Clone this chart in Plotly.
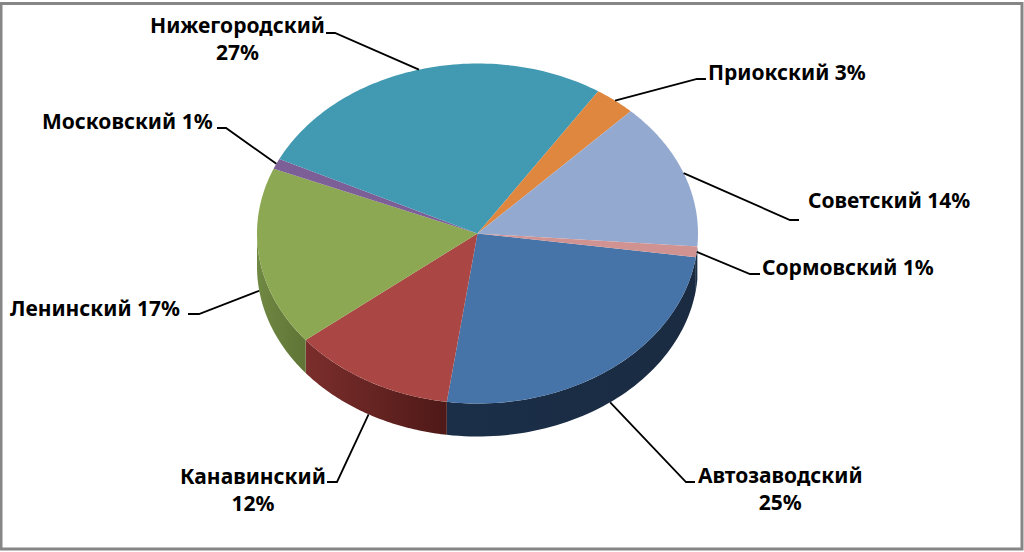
"""Объёмная круговая диаграмма по районам Нижнего Новгорода (1024x552)"""

import numpy as np
import plotly.graph_objects as go

# данные
districts = ['Автозаводский', 'Канавинский', 'Ленинский', 'Московский',
             'Нижегородский', 'Приокский', 'Советский', 'Сормовский']
shares = [25, 12, 17, 1, 27, 3, 14, 1]

# оформление секторов
top_colors = ['#4674A9', '#AA4744', '#8CA852', '#7D5F97', '#4299B2', '#DF873E', '#94A9D0', '#D09392']
side_left = ['#1B2F49', '#7B2E2C', '#6F8842', '#5E4672', '#2F7186', '#A9652D', '#6F80A0', '#1B2F49']
side_right = ['#1A2B41', '#4E1917', '#5F7436', '#5E4672', '#2F7186', '#A9652D', '#6F80A0', '#1B2F49']

# подписи
wrapped = [True, True, False, False, True, False, False, False]
label_x = [780, 253, 95, 127, 237, 787, 889, 848]
label_y = [488, 489, 308, 121, 38, 72, 200, 267]
elbow_x = [686, 337, 199, 226, 335, 697, 790, 750]
stub_x = [695, 327, 188, 217, 326, 706, 799, 760]
elbow_y = [482, 482, 314, 128, 33, 79, 220, 274]
on_wall = [True, True, True, False, False, False, False, False]

# геометрия эллипса
cx, cy = 477.5, 233.5
rx, ry = 220.5, 170
depth = 33
start_deg = 8.0


def rim(deg, shift=0.0):
    a = np.radians(deg)
    return cx + rx * np.cos(a), cy + ry * np.sin(a) + shift


fig = go.Figure()

edges = start_deg + np.concatenate([[0], np.cumsum(shares)]) * 3.6

# боковая стенка: видна только нижняя половина эллипса
for i in range(len(shares)):
    a0, a1 = edges[i], edges[i + 1]
    lo, hi = max(a0, 0), min(a1, 180)
    if a0 >= 360 - 4:
        lo, hi = a0 - 360, a1 - 360
    if lo >= hi:
        continue
    t = np.linspace(lo, hi, 60)
    xu, yu = rim(t)
    xd, yd = rim(t[::-1], depth)
    fig.add_trace(go.Scatter(
        x=np.r_[xu, xd, xu[0]], y=np.r_[yu, yd, yu[0]], mode='none', fill='toself',
        fillgradient=dict(type='horizontal', colorscale=[[0, side_left[i]], [1, side_right[i]]]),
        showlegend=False, hoverinfo='skip',
    ))

# верхняя грань
for i in range(len(shares)):
    t = np.linspace(edges[i], edges[i + 1], 80)
    xs, ys = rim(t)
    fig.add_trace(go.Scatter(
        x=np.r_[cx, xs, cx], y=np.r_[cy, ys, cy], mode='none', fill='toself',
        fillcolor=top_colors[i], name=districts[i],
        hovertemplate=f'{districts[i]}: {shares[i]}%<extra></extra>',
    ))

# выноски и подписи
for i in range(len(shares)):
    mid = (edges[i] + edges[i + 1]) / 2
    ax, ay = rim(mid, depth if on_wall[i] else 0)
    fig.add_trace(go.Scatter(
        x=[stub_x[i], elbow_x[i], ax], y=[elbow_y[i], elbow_y[i], ay], mode='lines',
        line=dict(color='#000000', width=1.8), showlegend=False, hoverinfo='skip',
    ))
    sep = '<br>' if wrapped[i] else ' '
    fig.add_annotation(
        x=label_x[i], y=label_y[i], text=f'{districts[i]}{sep}{shares[i]}%', showarrow=False,
        xanchor='center', yanchor='middle',
        font=dict(family='Noto Sans', size=21, color='#000000', weight=700),
    )

# рамка
fig.add_shape(type='rect', x0=1, y0=3.5, x1=1022, y1=549,
              line=dict(color='#868686', width=3), fillcolor='rgba(0,0,0,0)')

fig.update_xaxes(range=[0, 1024], visible=False)
fig.update_yaxes(range=[552, 0], visible=False)
fig.update_layout(
    width=1024, height=552,
    showlegend=False,
    margin=dict(l=0, r=0, t=0, b=0),
    paper_bgcolor='white', plot_bgcolor='white',
)

fig.write_html("out.html", config=dict(displayModeBar=False),
               post_script="document.body.style.margin='0';document.body.style.overflow='hidden';")
